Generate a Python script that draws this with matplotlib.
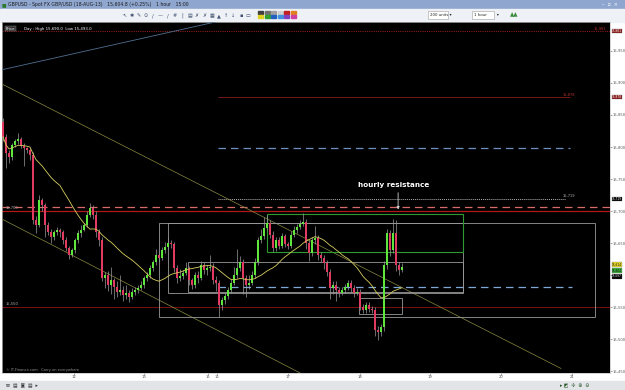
import numpy as np
import pandas as pd
import matplotlib
matplotlib.use("Agg")
from matplotlib import pyplot as plt
from matplotlib.patches import Rectangle
import matplotlib.transforms as mtransforms

# hourly GBPUSD candles (price x 10000)
first_open = 15839
closes = [15816, 15791, 15784, 15803, 15809, 15813, 15802, 15798, 15795, 15788,
          15686, 15678, 15717, 15709, 15678, 15667, 15659, 15667, 15670, 15667,
          15655, 15642, 15631, 15639, 15655, 15666, 15670, 15678, 15694, 15705,
          15694, 15667, 15655, 15595, 15600, 15584, 15592, 15581, 15573, 15577,
          15569, 15572, 15566, 15573, 15577, 15580, 15584, 15595, 15600, 15611,
          15620, 15631, 15627, 15639, 15644, 15650, 15648, 15611, 15595, 15598,
          15603, 15611, 15592, 15584, 15600, 15595, 15616, 15608, 15611, 15613,
          15592, 15588, 15553, 15561, 15567, 15577, 15588, 15600, 15611, 15620,
          15595, 15584, 15588, 15600, 15620, 15655, 15661, 15673, 15681, 15663,
          15642, 15655, 15645, 15661, 15648, 15645, 15663, 15670, 15675, 15680,
          15683, 15650, 15634, 15655, 15658, 15631, 15627, 15619, 15605, 15580,
          15584, 15577, 15572, 15577, 15581, 15588, 15580, 15572, 15573, 15550,
          15545, 15553, 15547, 15545, 15514, 15511, 15519, 15616, 15666, 15639,
          15666, 15616, 15608, 15613]
highs = [15845, 15820, 15796, 15806, 15812, 15822, 15816, 15806, 15800, 15799,
         15792, 15692, 15725, 15720, 15712, 15683, 15672, 15670, 15675, 15674,
         15670, 15660, 15646, 15642, 15658, 15670, 15678, 15682, 15700, 15712,
         15710, 15700, 15672, 15660, 15605, 15606, 15612, 15596, 15590, 15600,
         15583, 15585, 15576, 15580, 15582, 15584, 15590, 15598, 15604, 15615,
         15624, 15640, 15636, 15643, 15652, 15660, 15654, 15652, 15615, 15610,
         15608, 15620, 15614, 15596, 15605, 15606, 15622, 15620, 15615, 15632,
         15618, 15598, 15592, 15566, 15572, 15582, 15594, 15612, 15640, 15630,
         15625, 15600, 15600, 15606, 15626, 15660, 15672, 15690, 15694, 15686,
         15668, 15660, 15660, 15666, 15664, 15652, 15668, 15676, 15680, 15686,
         15697, 15688, 15655, 15660, 15676, 15662, 15636, 15632, 15624, 15610,
         15590, 15590, 15582, 15582, 15586, 15592, 15592, 15584, 15580, 15578,
         15555, 15558, 15558, 15552, 15550, 15520, 15524, 15622, 15672, 15670,
         15688, 15686, 15620, 15618]
lows = [15810, 15767, 15775, 15780, 15800, 15805, 15798, 15770, 15790, 15780,
        15680, 15665, 15675, 15700, 15660, 15662, 15650, 15655, 15662, 15660,
        15648, 15638, 15625, 15628, 15634, 15650, 15660, 15668, 15675, 15690,
        15688, 15660, 15645, 15590, 15580, 15575, 15570, 15562, 15565, 15568,
        15560, 15562, 15558, 15562, 15568, 15572, 15576, 15580, 15590, 15596,
        15606, 15615, 15622, 15624, 15635, 15640, 15642, 15605, 15588, 15590,
        15594, 15600, 15585, 15578, 15580, 15588, 15592, 15602, 15600, 15606,
        15586, 15575, 15534, 15545, 15555, 15562, 15572, 15584, 15596, 15606,
        15570, 15565, 15578, 15584, 15596, 15615, 15650, 15656, 15670, 15658,
        15636, 15638, 15640, 15642, 15644, 15640, 15642, 15660, 15666, 15672,
        15676, 15640, 15622, 15630, 15648, 15624, 15620, 15610, 15598, 15562,
        15570, 15560, 15565, 15568, 15572, 15576, 15574, 15566, 15568, 15545,
        15540, 15540, 15542, 15540, 15505, 15498, 15505, 15512, 15610, 15630,
        15635, 15606, 15600, 15604]

day_ticks = [23.7, 47, 68.3, 71.3, 95, 119, 142.3, 166, 189.7]
day_labels = ["12", "13", "15", "16", "17", "18", "19", "20", "21"]
price_ticks = [15450, 15500, 15550, 15600, 15650, 15700, 15750, 15800, 15850, 15900, 15950]

# drawn objects on the chart (candle index, price)
trend_blue = [(-1, 15920), (100, 16026)]
trend_upper = [(-1, 15900), (186, 15454)]
trend_lower = [(-1, 15689), (99, 15447)]
green_box = (88, 153.3, 15636, 15695)
grey_boxes = [(52, 197.3, 15534, 15681), (55, 153.3, 15572, 15681),
              (61.7, 153.3, 15573, 15620), (118.7, 133, 15539, 15564)]

opens = [first_open] + closes[:-1]
ma20 = pd.Series(closes).rolling(20, min_periods=1).mean()
x = np.arange(len(closes))

plt.rcParams['font.family'] = ['DejaVu Sans', 'Noto Sans']

fig = plt.figure(figsize=(6.25, 3.9), dpi=100)
fig.patch.set_facecolor("white")

# window chrome (pixel coordinates)
ui = fig.add_axes([0, 0, 1, 1], zorder=0)
ui.set_xlim(0, 625)
ui.set_ylim(390, 0)
ui.axis("off")
ui.add_patch(Rectangle((0, 0), 625, 9, color="#8fa6cf"))
ui.add_patch(Rectangle((0, 9), 625, 13, color="#eef1f6"))
ui.add_patch(Rectangle((0, 381), 625, 9, color="#e2e4e8"))
ui.text(8, 4.5, "GBPUSD - Spot FX GBP/USD (18-AUG-13)   15,604.8 (+0.25%)   1 hour   15:00",
        fontsize=3.3, color="#1a1a1a", va="center")
ui.text(2, 4.5, "■", fontsize=3.5, color="#2a7a2a", va="center")
ui.text(602, 4.5, "–  ▫  ×", fontsize=3.5, color="white", va="center")
palette = ["#404040", "#707070", "#a0a0a0", "#d0d0d0", "#c02020", "#e08020",
           "#e0d020", "#30a030", "#2060c0", "#4090e0", "#8040c0", "#d040a0"]
for k, c in enumerate(palette):
    ui.add_patch(Rectangle((258 + (k % 6) * 6.5, 11 + (k // 6) * 4), 5, 3, color=c))
icons = ["↖", "✱", "✎", "⊙", "/", "—", "/", "#", "|", "▤", "✗", "✗", "▦", "▲", "↑", "↓", "▪", "▭"]
for k, s in enumerate(icons):
    ui.text(124 + k * 7.3, 15.5, s, fontsize=3.6, color="#405070", ha="center", va="center")
ui.add_patch(Rectangle((428, 11), 20, 8, facecolor="white", edgecolor="#a0a0a0", lw=0.4))
ui.text(430, 15, "200 units ▾", fontsize=2.8, color="#222", va="center")
ui.add_patch(Rectangle((472, 11), 22, 8, facecolor="white", edgecolor="#a0a0a0", lw=0.4))
ui.text(474, 15, "1 hour        ▾", fontsize=2.8, color="#222", va="center")
ui.text(514, 15, "▲▲", fontsize=4, color="#3a8a3a", ha="center", va="center")
ui.text(6, 385.5, "✉  ▤  ▣  ▤  ▸", fontsize=3.4, color="#333", va="center")
ui.text(560, 385.5, "▸ ◩  ✣  ⊕  ⊖", fontsize=3.4, color="#2a5a2a", va="center")

# price chart
ax = fig.add_axes([2 / 625, 17 / 390, 608 / 625, 351 / 390], zorder=1)
ax.set_facecolor("black")
ax.set_xlim(-0.333, 202.33)
ax.set_ylim(15446.9, 15995.3)

up = np.array(closes) >= np.array(opens)
body_lo = np.minimum(opens, closes)
body_h = np.maximum(np.abs(np.array(closes) - np.array(opens)), 1.2)
ax.vlines(x, lows, highs, color="#9a9a9a", lw=0.5, zorder=4)
ax.bar(x[up], body_h[up], bottom=body_lo[up], width=0.8, color="#5fe63c", zorder=5)
ax.bar(x[~up], body_h[~up], bottom=body_lo[~up], width=0.8, color="#e23b62", zorder=5)
ax.plot(x, ma20, color="#d8cf60", lw=0.6, zorder=6)

for (x0, y0), (x1, y1) in [trend_upper, trend_lower]:
    ax.plot([x0, x1], [y0, y1], color="#8a8a40", lw=0.5, zorder=3)
ax.plot([trend_blue[0][0], trend_blue[1][0]], [trend_blue[0][1], trend_blue[1][1]],
        color="#4f6f90", lw=0.6, zorder=3)

ax.axhline(15981, color="#8b1a1a", lw=0.8, ls=(0, (1, 1)), zorder=2)
ax.axhline(15706, color="#d86a6a", lw=0.9, ls=(0, (6, 4)), zorder=2)
ax.axhline(15700, color="#b01818", lw=0.9, zorder=2)
ax.axhline(15550, color="#7a1010", lw=0.7, zorder=2)
ax.hlines(15878, 71.7, 189, color="#8b1a1a", lw=0.6, zorder=2)
ax.hlines(15798, 71.7, 189, color="#6f8fc0", lw=0.9, ls=(0, (6, 4)), zorder=2)
ax.hlines(15719, 71.7, 187.3, color="#b0b0b0", lw=0.7, ls=(0, (1, 1)), zorder=2)
ax.hlines(15581, 71.7, 189.7, color="#7fa8d6", lw=0.9, ls=(0, (6, 4)), zorder=2)

for (a, b, lo, hi) in grey_boxes:
    ax.add_patch(Rectangle((a, lo), b - a, hi - lo, fill=False, ec="#9a9a9a", lw=0.6, zorder=3))
gx0, gx1, glo, ghi = green_box
ax.add_patch(Rectangle((gx0, glo), gx1 - gx0, ghi - glo, fill=False, ec="#2f9a2f", lw=0.8, zorder=3))

ax.annotate("", xy=(131.7, 15698), xytext=(131.7, 15733),
            arrowprops=dict(arrowstyle="-|>", color="#d0d0d0", lw=0.6, mutation_scale=4), zorder=7)
ax.text(130.3, 15741, "hourly resistance", color="white", fontsize=5.2,
        fontweight="bold", ha="center", va="center", zorder=7)

ax.text(1, 15704, "15,700", color="#b0b0b0", fontsize=2.6, va="center", zorder=7)
ax.text(1, 15554, "15,550", color="#b0b0b0", fontsize=2.6, va="center", zorder=7)
ax.text(186.5, 15882, "15,878", color="#b03030", fontsize=2.6, va="center", zorder=7)
ax.text(186.5, 15723, "15,719", color="#b0b0b0", fontsize=2.6, va="center", zorder=7)
ax.text(197, 15985, "15,981", color="#b03030", fontsize=2.6, va="center", zorder=7)
ax.text(1, 15449, "© IT-Finance.com   Carry on everywhere", color="#909090", fontsize=2.6,
        va="bottom", zorder=7)
ax.text(1, 15985, "Price", color="white", fontsize=2.8, va="center", zorder=7,
        bbox=dict(facecolor="#303030", edgecolor="#909090", lw=0.3, pad=0.6))
ax.text(7, 15985, "Day : High 15,690.0  Low 15,493.0", color="white", fontsize=2.8,
        va="center", zorder=7)

ax.yaxis.tick_right()
ax.set_yticks(price_ticks)
# the 15,600 label sits behind the live price tags
ax.set_yticklabels(["" if p == 15600 else f"{p:,}" for p in price_ticks])
ax.set_xticks(day_ticks)
ax.set_xticklabels(day_labels)
ax.tick_params(axis="both", labelsize=2.7, colors="#555555", length=1.2, width=0.4, pad=0.6)
for s in ax.spines.values():
    s.set_color("#c0c0c0")
    s.set_linewidth(0.5)

# current price tags on the right axis
tr = mtransforms.blended_transform_factory(ax.transAxes, ax.transData)
tags = [(15981, "15,981", "#8b1a1a", "white"), (15878, "15,878", "#8b1a1a", "white"),
        (15719, "15,719", "black", "white"), (15616, "15,614", "#e8d830", "black"),
        (15607, "15,604", "#3cb03c", "black"), (15598, "15,597", "black", "white")]
for p, s, fc, tc in tags:
    ax.text(1.003, p, s, transform=tr, fontsize=2.1, color=tc, va="center", ha="left",
            clip_on=False, zorder=8, bbox=dict(facecolor=fc, edgecolor="#606060", lw=0.2, pad=0.2))

plt.savefig("out.png", dpi=100)
